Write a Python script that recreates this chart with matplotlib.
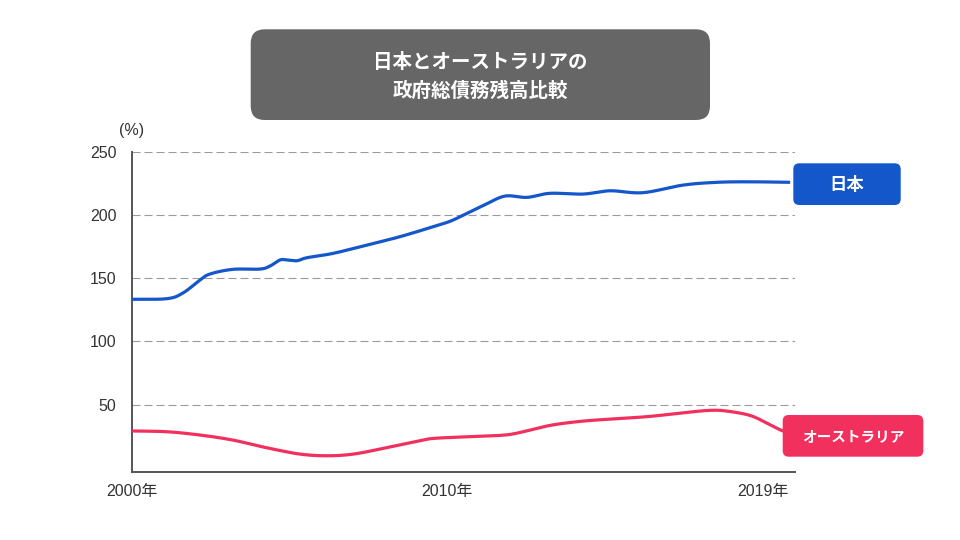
import numpy as np
import matplotlib
matplotlib.use("Agg")
import matplotlib.pyplot as plt
from matplotlib.patches import FancyBboxPatch
from matplotlib.transforms import IdentityTransform

plt.rcParams['font.family'] = ['Liberation Sans', 'Noto Sans CJK JP', 'DejaVu Sans']

# ---- data ----
japan_years = [2000.0, 2001.02, 2001.48, 2001.97, 2002.26, 2002.92, 2003.70, 2003.99,
               2004.28, 2004.48, 2004.77, 2005.06, 2005.81, 2006.79, 2007.74, 2008.70,
               2009.19, 2009.68, 2010.18, 2010.77, 2011.41, 2012.07, 2013.02, 2013.80,
               2014.75, 2015.91, 2016.89, 2017.84, 2019.0]
japan_values = [133.3, 133.8, 138.3, 148.5, 153.3, 157.0, 157.2, 159.6,
                164.4, 164.4, 163.8, 166.2, 169.6, 176.2, 182.8, 190.7,
                195.0, 201.3, 207.9, 214.9, 213.9, 217.1, 216.5, 219.1,
                217.6, 223.6, 225.8, 226.2, 225.8]

aus_years = [2000.0, 2001.01, 2001.97, 2002.92, 2003.90, 2004.86, 2005.64, 2006.39,
             2007.25, 2008.23, 2008.70, 2009.68, 2010.63, 2011.12, 2012.07, 2013.02,
             2014.00, 2014.95, 2015.91, 2016.69, 2017.18, 2017.84, 2018.33, 2018.70, 2018.9]
aus_values = [29.2, 28.6, 26.0, 22.0, 15.9, 10.9, 9.6, 10.9,
              15.4, 21.1, 23.3, 24.6, 25.7, 27.5, 33.6, 37.0,
              38.9, 40.7, 43.6, 45.5, 44.9, 41.5, 35.4, 30.2, 28.5]

y_ticks = [50, 100, 150, 200, 250]
x_tick_pos = [2000.0, 2009.10, 2018.22]
x_tick_labels = ['2000年', '2010年', '2019年']

title_lines = ['日本とオーストラリアの', '政府総債務残高比較']
label_japan = '日本'
label_aus = 'オーストラリア'

BLUE = '#1357CA'
PINK = '#F2305E'
GREY_BOX = '#666666'


def smooth(x, y, n=24):
    x = np.asarray(x, float)
    y = np.asarray(y, float)
    px = np.concatenate([[2 * x[0] - x[1]], x, [2 * x[-1] - x[-2]]])
    py = np.concatenate([[2 * y[0] - y[1]], y, [2 * y[-1] - y[-2]]])
    t = np.linspace(0, 1, n, endpoint=False)
    ox, oy = [], []
    for i in range(1, len(px) - 2):
        for P, out in ((px, ox), (py, oy)):
            p0, p1, p2, p3 = P[i - 1], P[i], P[i + 1], P[i + 2]
            out.append(0.5 * (2 * p1 + (-p0 + p2) * t
                              + (2 * p0 - 5 * p1 + 4 * p2 - p3) * t ** 2
                              + (-p0 + 3 * p1 - 3 * p2 + p3) * t ** 3))
    ox = np.concatenate(ox + [[x[-1]]])
    oy = np.concatenate(oy + [[y[-1]]])
    return ox, oy


fig = plt.figure(figsize=(9.6, 5.4), dpi=100)
W, H = 960, 540
ax = fig.add_axes([131.7 / W, 1 - 471.7 / H, (795 - 131.7) / W, (471.7 - 151.7) / H])

jx, jy = smooth(japan_years, japan_values)
ax.plot(jx, jy, color=BLUE, lw=2.3, solid_capstyle='butt', zorder=3)
axx, axy = smooth(aus_years, aus_values)
ax.plot(axx, axy, color=PINK, lw=2.3, solid_capstyle='butt', zorder=3)

ax.set_xlim(2000.0, 2019.14)
ax.set_ylim(-3, 250)
ax.set_yticks(y_ticks)
ax.set_yticklabels([str(v) for v in y_ticks])
ax.set_xticks(x_tick_pos)
ax.set_xticklabels(x_tick_labels)
ax.tick_params(axis='both', length=0, labelsize=11.5, colors='#333333')
ax.tick_params(axis='y', pad=11)
ax.tick_params(axis='x', pad=9)
for lab in ax.get_yticklabels() + ax.get_xticklabels():
    lab.set_color('#333333')

ax.grid(axis='y', color='#9a9a9a', lw=0.8, linestyle=(0, (7.2, 3.6)))
ax.set_axisbelow(True)
for s in ('top', 'right'):
    ax.spines[s].set_visible(False)
for s in ('left', 'bottom'):
    ax.spines[s].set_color('#555555')
    ax.spines[s].set_linewidth(1.4)

fig.text(131.5 / W, 1 - 130 / H, '(%)', ha='center', va='center', fontsize=11.5, color='#333333')

# title box
def px_box(x0, y0, x1, y1, color, r):
    p = FancyBboxPatch((x0, H - y1), x1 - x0, y1 - y0,
                       boxstyle=f'round,pad=0,rounding_size={r}',
                       transform=IdentityTransform(), facecolor=color, edgecolor='none', zorder=1)
    fig.add_artist(p)

px_box(250.7, 29.3, 710, 120, GREY_BOX, 14)
fig.text(480 / W, 1 - 62 / H, title_lines[0], ha='center', va='center', fontsize=14,
         fontweight='bold', color='white', family=['Noto Sans CJK JP'])
fig.text(480 / W, 1 - 91 / H, title_lines[1], ha='center', va='center', fontsize=14,
         fontweight='bold', color='white', family=['Noto Sans CJK JP'])

px_box(793.3, 163.3, 900.7, 205, BLUE, 6)
fig.text(847 / W, 1 - 184.5 / H, label_japan, ha='center', va='center', fontsize=12.5,
         fontweight='bold', color='white', family=['Noto Sans CJK JP'])

px_box(782.7, 415, 923.3, 456.7, PINK, 6)
fig.text(853 / W, 1 - 436 / H, label_aus, ha='center', va='center', fontsize=10.5,
         fontweight='bold', color='white', family=['Noto Sans CJK JP'])

fig.savefig('out.png', dpi=100)
